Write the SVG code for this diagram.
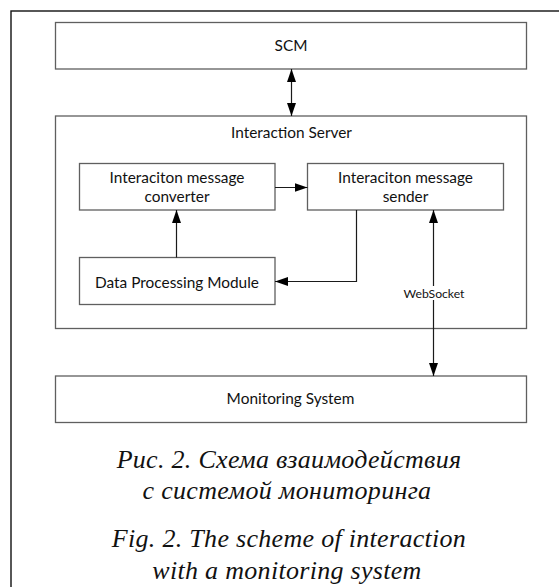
<svg xmlns="http://www.w3.org/2000/svg" width="559" height="587" viewBox="0 0 559 587">
  <style>
    .box { fill: #ffffff; stroke: #5f5f5f; stroke-width: 1.3; }
    .lbl { font-family: Lato, "Open Sans", sans-serif; font-size: 15.4px; fill: #111111; text-anchor: middle; }
    .small { font-family: Lato, "Open Sans", sans-serif; font-size: 12.2px; fill: #111111; text-anchor: middle; }
    .cap { font-family: "Liberation Serif", "Times New Roman", serif; font-style: italic; font-size: 26px; letter-spacing: 0.3px; fill: #111111; text-anchor: middle; }
    .wire { fill: none; stroke: #1a1a1a; stroke-width: 1.2; }
  </style>
  <defs>
    <marker id="head" markerUnits="userSpaceOnUse" markerWidth="14" markerHeight="10" refX="13" refY="4.5" orient="auto-start-reverse">
      <path d="M0,0 L13,4.5 L0,9 Z" fill="#000000"/>
    </marker>
  </defs>

  <rect width="559" height="587" fill="#ffffff"/>
  <!-- page frame, continues past the right and bottom edges -->
  <rect x="11" y="11" width="560" height="600" fill="none" stroke="#111111" stroke-width="1.4"/>

  <g id="scm">
    <rect class="box" x="55.5" y="22.5" width="471" height="46.5"/>
    <text class="lbl" x="291" y="50.5">SCM</text>
  </g>

  <g id="interaction-server">
    <rect class="box" x="55.5" y="116" width="471" height="212.5"/>
    <text class="lbl" x="291.5" y="138">Interaction Server</text>
  </g>

  <g id="message-converter">
    <rect class="box" x="79.5" y="163.5" width="195.5" height="46.5"/>
    <text class="lbl" x="177" y="183">Interaciton message</text>
    <text class="lbl" x="177" y="202">converter</text>
  </g>

  <g id="message-sender">
    <rect class="box" x="307.5" y="163.5" width="196" height="46.5"/>
    <text class="lbl" x="405.5" y="183">Interaciton message</text>
    <text class="lbl" x="405.5" y="202">sender</text>
  </g>

  <g id="data-processing">
    <rect class="box" x="79.5" y="257.5" width="195.5" height="47"/>
    <text class="lbl" x="177" y="287.5">Data Processing Module</text>
  </g>

  <g id="monitoring-system">
    <rect class="box" x="55.5" y="376" width="471" height="46.5"/>
    <text class="lbl" x="290.5" y="404">Monitoring System</text>
  </g>

  <g id="connectors">
    <line class="wire" x1="291.5" y1="69" x2="291.5" y2="116" marker-start="url(#head)" marker-end="url(#head)"/>
    <line class="wire" x1="275" y1="187.5" x2="307.5" y2="187.5" marker-end="url(#head)"/>
    <line class="wire" x1="176.5" y1="257.5" x2="176.5" y2="210" marker-end="url(#head)"/>
    <polyline class="wire" points="356.5,210 356.5,281.5 275,281.5" marker-end="url(#head)"/>
    <line class="wire" x1="433.5" y1="210" x2="433.5" y2="376" marker-start="url(#head)" marker-end="url(#head)"/>
    <rect x="402" y="286" width="64" height="14" fill="#ffffff"/>
    <text class="small" x="434" y="297.5">WebSocket</text>
  </g>

  <g id="caption">
    <text class="cap" x="289" y="468">Рис. 2. Схема взаимодействия</text>
    <text class="cap" x="287" y="499">с системой мониторинга</text>
    <text class="cap" x="289" y="547">Fig. 2. The scheme of interaction</text>
    <text class="cap" x="287" y="579">with a monitoring system</text>
  </g>
</svg>
